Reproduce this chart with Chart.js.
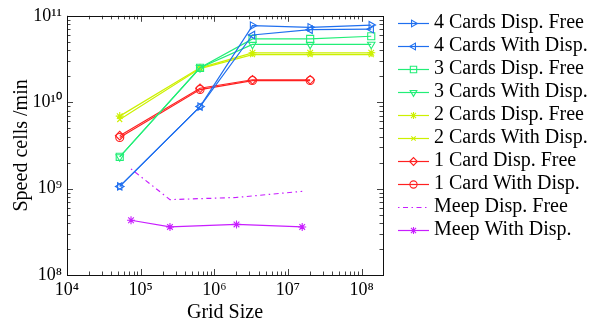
<!DOCTYPE html>
<html><head><meta charset="utf-8">
<script src="https://cdn.jsdelivr.net/npm/chart.js@4/dist/chart.umd.min.js"></script>
<style>html,body{margin:0;padding:0;background:#fff}canvas{display:block}</style>
</head><body>
<canvas id="c" width="591" height="322"></canvas>
<script>
// ---- data ----
const cardSizes    = [5.2e4, 6.4e5, 3.3e6, 2.0e7, 1.35e8];
const oneCardSizes = [5.2e4, 6.4e5, 3.3e6, 2.0e7];
const meepSizes    = [7.4e4, 2.5e5, 2.0e6, 1.56e7];

const card4Free = [1.06e9, 8.9e9, 7.7e10, 7.35e10, 7.8e10];
const card4With = [1.06e9, 8.9e9, 6.0e10, 6.9e10, 7.0e10];
const card3Free = [2.33e9, 2.5e10, 5.4e10, 5.4e10, 5.8e10];
const card3With = [2.33e9, 2.5e10, 4.66e10, 4.66e10, 4.66e10];
const card2Free = [6.9e9, 2.5e10, 3.73e10, 3.73e10, 3.73e10];
const card2With = [6.3e9, 2.45e10, 3.55e10, 3.55e10, 3.55e10];
const card1Free = [4.1e9, 1.45e10, 1.82e10, 1.82e10];
const card1With = [3.9e9, 1.4e10, 1.78e10, 1.78e10];
const meepFree  = [1.69e9, 7.45e8, 7.9e8, 9.3e8];
const meepWith  = [4.3e8, 3.6e8, 3.85e8, 3.6e8];

const seriesNames = ['4 Cards Disp. Free','4 Cards With Disp.','3 Cards Disp. Free','3 Cards With Disp.',
  '2 Cards Disp. Free','2 Cards With Disp.','1 Card Disp. Free','1 Card With Disp.','Meep Disp. Free','Meep With Disp.'];

const xTickValues = [1e4, 1e5, 1e6, 1e7, 1e8];
const xTickLabels = ['10\u2074','10\u2075','10\u2076','10\u2077','10\u2078'];
const yTickValues = [1e8, 1e9, 1e10, 1e11];
const yTickLabels = ['10\u2078','10\u2079','10\u00B9\u2070','10\u00B9\u00B9'];
const xMin = 1e4, xMax = 1.95e8, yMin = 1e8, yMax = 1e11;

// ---- styles ----
const BLUE = '#1f6fef', GREEN = '#22ee77', YEL = '#cdf000', RED = '#ff2020', MAG = '#c81eff';
const FONT = '"Liberation Serif", "Times New Roman", serif';

const specs = [
  {xs: cardSizes, ys: card4Free, c: BLUE, ps: 'triangle', rot: 90, r: 4.3},
  {xs: cardSizes, ys: card4With, c: BLUE, ps: 'triangle', rot: -90, r: 4.3},
  {xs: cardSizes, ys: card3Free, c: GREEN, ps: 'rect', rot: 0, r: 5},
  {xs: cardSizes, ys: card3With, c: GREEN, ps: 'triangle', rot: 180, r: 4.3},
  {xs: cardSizes, ys: card2Free, c: YEL, ps: 'star', rot: 0, r: 4},
  {xs: cardSizes, ys: card2With, c: YEL, ps: 'crossRot', rot: 0, r: 3.5},
  {xs: oneCardSizes, ys: card1Free, c: RED, ps: 'rectRot', rot: 0, r: 4.3},
  {xs: oneCardSizes, ys: card1With, c: RED, ps: 'circle', rot: 0, r: 4},
  {xs: meepSizes, ys: meepFree, c: MAG, ps: false, rot: 0, r: 0, dash: [1.5, 3.5, 5, 3.5]},
  {xs: meepSizes, ys: meepWith, c: MAG, ps: 'star', rot: 0, r: 4},
];

const datasets = specs.map((s, i) => ({
  label: seriesNames[i],
  data: s.xs.map((x, k) => ({x, y: s.ys[k]})),
  borderColor: s.c,
  backgroundColor: s.c,
  borderWidth: 1.2,
  borderDash: s.dash || [],
  pointStyle: s.ps || 'circle',
  pointRadius: s.ps ? s.r : 0,
  pointRotation: s.rot,
  pointBorderColor: s.c,
  pointBackgroundColor: 'rgba(255,255,255,0)',
  pointBorderWidth: 1.1,
  tension: 0,
  fill: false,
}));

// legend sample images (line + marker)
function legendImage(s) {
  const cv = document.createElement('canvas');
  cv.width = 48; cv.height = 14;
  const g = cv.getContext('2d');
  g.strokeStyle = s.c; g.lineWidth = 1.2;
  g.setLineDash(s.dash || []);
  g.beginPath(); g.moveTo(17, 7.5); g.lineTo(48, 7.5); g.stroke();
  g.setLineDash([]);
  if (s.ps) {
    g.fillStyle = 'rgba(255,255,255,0)';
    g.lineWidth = 1.1;
    try {
      Chart.helpers.drawPoint(g, {pointStyle: s.ps, radius: s.r * 0.9, rotation: s.rot, borderWidth: 1.1}, 32.5, 7.5);
    } catch (e) {
      g.beginPath(); g.arc(32.5, 7.5, 3, 0, Math.PI * 2); g.stroke();
    }
  }
  return cv;
}
const legendImages = specs.map(legendImage);

const frameTicks = {
  id: 'frameTicks',
  afterLayout(chart) {
    if (chart.legend) { chart.legend.top -= 3; chart.legend.bottom -= 3; }
  },
  afterDatasetsDraw(chart) {
    const {ctx, chartArea: a, scales: {x, y}} = chart;
    ctx.save();
    ctx.strokeStyle = '#444'; ctx.lineWidth = 1;
    ctx.beginPath();
    const e0x = Math.floor(Math.log10(x.min)), e1x = Math.ceil(Math.log10(x.max));
    for (let e = e0x; e <= e1x; e++) for (let m = 1; m <= 9; m++) {
      const v = m * Math.pow(10, e);
      if (v < x.min || v > x.max) continue;
      const px = Math.round(x.getPixelForValue(v)) + 0.5;
      const len = m === 1 ? 6 : 3.5;
      ctx.moveTo(px, a.bottom); ctx.lineTo(px, a.bottom - len);
      ctx.moveTo(px, a.top); ctx.lineTo(px, a.top + len);
    }
    const e0y = Math.floor(Math.log10(y.min)), e1y = Math.ceil(Math.log10(y.max));
    for (let e = e0y; e <= e1y; e++) for (let m = 1; m <= 9; m++) {
      const v = m * Math.pow(10, e);
      if (v < y.min || v > y.max) continue;
      const py = Math.round(y.getPixelForValue(v)) + 0.5;
      const len = m === 1 ? 6 : 3.5;
      ctx.moveTo(a.left, py); ctx.lineTo(a.left + len, py);
      ctx.moveTo(a.right, py); ctx.lineTo(a.right - len, py);
    }
    ctx.stroke();
    ctx.strokeStyle = '#111';
    ctx.strokeRect(Math.round(a.left) + 0.5, Math.round(a.top) + 0.5,
      Math.round(a.right - a.left), Math.round(a.bottom - a.top));
    ctx.restore();
  }
};

new Chart(document.getElementById('c'), {
  type: 'line',
  data: {datasets},
  plugins: [frameTicks],
  options: {
    responsive: false,
    animation: false,
    devicePixelRatio: 1,
    layout: {padding: {top: 13, right: 0, bottom: 0, left: 0}},
    plugins: {
      tooltip: {enabled: false},
      legend: {
        position: 'right',
        align: 'start',
        maxWidth: 208,
        labels: {
          usePointStyle: true,
          pointStyleWidth: 38,
          padding: 3,
          color: '#000',
          font: {family: FONT, size: 20},
          generateLabels: (chart) => chart.data.datasets.map((d, i) => ({
            text: d.label,
            pointStyle: legendImages[i],
            fontColor: '#000',
            fillStyle: 'transparent',
            strokeStyle: 'transparent',
            lineWidth: 0,
            hidden: false,
            datasetIndex: i,
          })),
        },
      },
    },
    scales: {
      x: {
        type: 'logarithmic',
        min: xMin, max: xMax,
        grid: {display: false, drawTicks: false},
        border: {display: false},
        afterBuildTicks: (s) => { s.ticks = xTickValues.map(v => ({value: v})); },
        afterFit: (s) => { s.height = 47; },
        ticks: {
          autoSkip: false, maxRotation: 0, padding: 4, color: '#000',
          font: {family: FONT, size: 18},
          callback: (v) => { const i = xTickValues.indexOf(v); return i >= 0 ? xTickLabels[i] : ''; },
        },
        title: {display: true, text: 'Grid Size', color: '#000', font: {family: FONT, size: 20}, padding: {top: 0, bottom: -3}},
      },
      y: {
        type: 'logarithmic',
        min: yMin, max: yMax,
        grid: {display: false, drawTicks: false},
        border: {display: false},
        afterBuildTicks: (s) => { s.ticks = yTickValues.map(v => ({value: v})); },
        afterFit: (s) => { s.width = 67; },
        ticks: {
          autoSkip: false, padding: 5, color: '#000',
          font: {family: FONT, size: 18},
          callback: (v) => { const i = yTickValues.indexOf(v); return i >= 0 ? yTickLabels[i] : ''; },
        },
        title: {display: true, text: 'Speed cells /min', color: '#000', font: {family: FONT, size: 20}, padding: {top: 10, bottom: 0}},
      },
    },
  },
});
</script>
</body></html>
